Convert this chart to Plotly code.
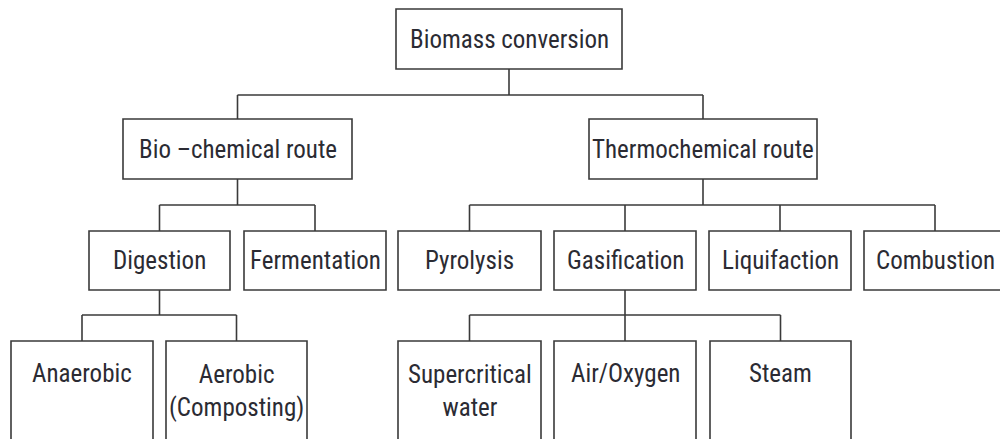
import plotly.graph_objects as go

# ---- data: tree of biomass conversion routes ----
labels = ["Biomass conversion", "Bio \u2013chemical route", "Thermochemical route",
          "Digestion", "Fermentation", "Pyrolysis", "Gasification", "Liquifaction", "Combustion",
          "Anaerobic", "Aerobic<br>(Composting)", "Supercritical<br>water", "Air/Oxygen", "Steam"]
parents = [None, 0, 0, 1, 1, 2, 2, 2, 2, 3, 3, 6, 6, 6]
levels = [0, 1, 1, 2, 2, 2, 2, 2, 2, 3, 3, 3, 3, 3]

# ---- layout geometry (pixel-like axis units) ----
box_x = [(396, 622), (123, 352), (589, 817),
         (89, 230), (244, 386), (398, 541), (554, 696), (709, 851), (864, 1006),
         (11, 153), (166, 307), (398, 541), (554, 696), (710, 851)]
level_y = {0: (9, 69), 1: (119, 179), 2: (231, 290), 3: (341, 470)}
bar_y = {1: 95, 2: 205, 3: 315}
text_y = {0: 39, 1: 149, 2: 260.5}

LINE = "#3a3a3a"
TXT = "#2b2b33"
FONT = "Roboto Condensed, Liberation Sans, Arial, sans-serif"

fig = go.Figure()
shapes = []
annotations = []

centers = [(a + b) / 2 for a, b in box_x]

for i, lab in enumerate(labels):
    x0, x1 = box_x[i]
    y0, y1 = level_y[levels[i]]
    shapes.append(dict(type="rect", x0=x0, x1=x1, y0=y0, y1=y1,
                       line=dict(color=LINE, width=1.6), fillcolor="rgba(0,0,0,0)"))
    if levels[i] == 3:
        ty = 373 if "<br>" not in lab else 390.5
    else:
        ty = text_y[levels[i]]
    annotations.append(dict(x=centers[i], y=ty, text=lab, showarrow=False,
                            xanchor="center", yanchor="middle",
                            font=dict(family=FONT, size=25, color=TXT)))

# connectors
for p in range(len(labels)):
    kids = [i for i, q in enumerate(parents) if q == p]
    if not kids:
        continue
    lv = levels[kids[0]]
    by = bar_y[lv]
    py1 = level_y[levels[p]][1]
    pc = centers[p]
    shapes.append(dict(type="line", x0=pc, x1=pc, y0=py1, y1=by, line=dict(color=LINE, width=1.6)))
    kc = [centers[k] for k in kids]
    shapes.append(dict(type="line", x0=min(kc + [pc]), x1=max(kc + [pc]), y0=by, y1=by,
                       line=dict(color=LINE, width=1.6)))
    for k in kids:
        shapes.append(dict(type="line", x0=centers[k], x1=centers[k], y0=by,
                           y1=level_y[levels[k]][0], line=dict(color=LINE, width=1.6)))

fig.update_layout(
    width=1000, height=439,
    margin=dict(l=0, r=0, t=0, b=0),
    paper_bgcolor="white", plot_bgcolor="white",
    xaxis=dict(range=[0, 1000], visible=False, fixedrange=True),
    yaxis=dict(range=[439, 0], visible=False, fixedrange=True),
    shapes=shapes, annotations=annotations, showlegend=False,
)

fig.write_html("out.html", config={"displayModeBar": False},
               post_script="document.body.style.margin='0';document.body.style.overflow='hidden';")
